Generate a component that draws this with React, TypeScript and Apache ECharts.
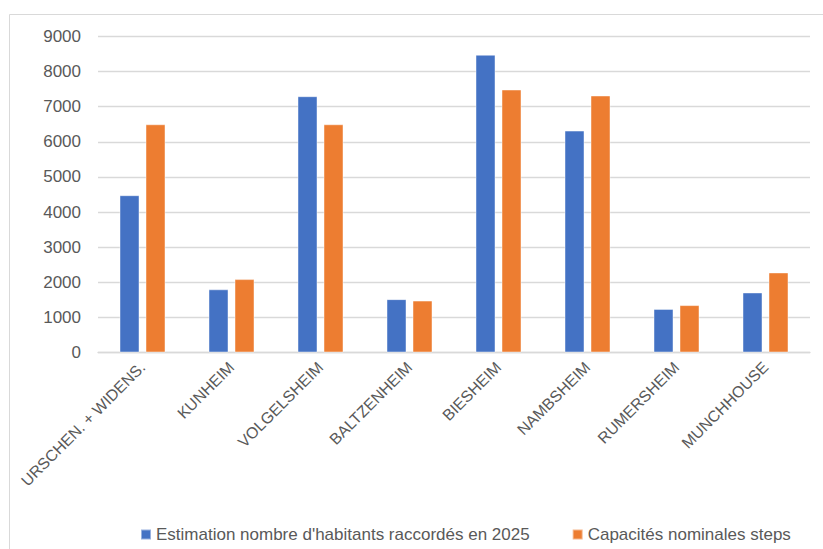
import React, { useEffect, useRef } from "react";
import * as echarts from "echarts";

const categories = [
  "URSCHEN. + WIDENS.",
  "KUNHEIM",
  "VOLGELSHEIM",
  "BALTZENHEIM",
  "BIESHEIM",
  "NAMBSHEIM",
  "RUMERSHEIM",
  "MUNCHHOUSE",
];
const seriesNames = [
  "Estimation nombre d'habitants raccordés en 2025",
  "Capacités nominales steps",
];
const habitants2025 = [4480, 1800, 7300, 1520, 8480, 6320, 1240, 1710];
const capacites = [6500, 2090, 6500, 1480, 7490, 7320, 1350, 2280];

const FONT = "'Liberation Sans', Arial, sans-serif";
const TEXT = "#595959";

export default function App() {
  const ref = useRef<HTMLDivElement>(null);
  useEffect(() => {
    document.body.style.margin = "0";
    if (!ref.current) return;
    const chart = echarts.init(ref.current, null, { renderer: "svg" });
    chart.setOption({
      animation: false,
      backgroundColor: "#ffffff",
      textStyle: { fontFamily: FONT },
      graphic: [
        {
          type: "rect",
          shape: { x: 9.5, y: 14.5, width: 900, height: 600 },
          style: { fill: "none", stroke: "#d9d9d9", lineWidth: 1 },
          silent: true,
        },
      ],
      grid: { left: 98, right: 13, top: 36.5, bottom: 196.5, containLabel: false },
      legend: {
        left: 135,
        top: 521,
        itemWidth: 10,
        itemHeight: 10,
        itemGap: 42,
        icon: "rect",
        textStyle: { color: TEXT, fontSize: 17, fontFamily: FONT, padding: [0, 0, 0, 0] },
        data: seriesNames,
      },
      xAxis: {
        type: "category",
        data: categories,
        axisLine: { show: true, lineStyle: { color: "#d9d9d9", width: 1.3 } },
        axisTick: { show: false },
        axisLabel: {
          rotate: 45,
          interval: 0,
          margin: 12,
          color: TEXT,
          fontSize: 15.8,
          fontFamily: FONT,
        },
      },
      yAxis: {
        type: "value",
        min: 0,
        max: 9000,
        interval: 1000,
        axisLine: { show: false },
        axisTick: { show: false },
        splitLine: { lineStyle: { color: "#d9d9d9", width: 1.3 } },
        axisLabel: {
          color: TEXT,
          fontSize: 17,
          margin: 17,
          fontFamily: FONT,
          formatter: (v: number) => String(v),
        },
      },
      series: [
        {
          name: seriesNames[0],
          type: "bar",
          data: habitants2025,
          barWidth: 20,
          barGap: "30%",
          itemStyle: { color: "#4472C4", borderColor: "rgba(255,255,255,0.45)", borderWidth: 1 },
        },
        {
          name: seriesNames[1],
          type: "bar",
          data: capacites,
          barWidth: 20,
          barGap: "30%",
          itemStyle: { color: "#ED7D31", borderColor: "rgba(255,255,255,0.45)", borderWidth: 1 },
        },
      ],
    });
    return () => chart.dispose();
  }, []);
  return <div ref={ref} style={{ width: 823, height: 549 }} />;
}
